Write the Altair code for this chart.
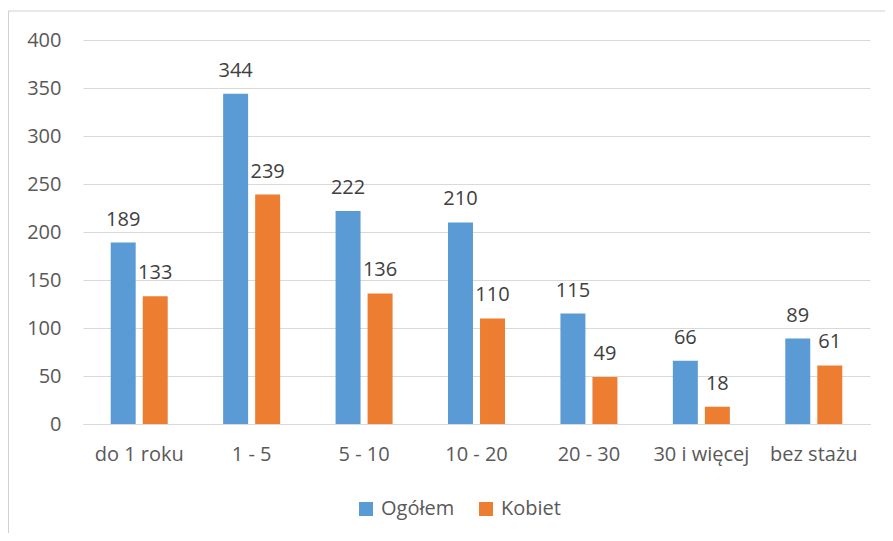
import altair as alt
import pandas as pd

categories = ["do 1 roku", "1 - 5", "5 - 10", "10 - 20", "20 - 30", "30 i więcej", "bez stażu"]
series = ["Ogółem", "Kobiet"]
ogolem = [189, 344, 222, 210, 115, 66, 89]
kobiet = [133, 239, 136, 110, 49, 18, 61]
y_ticks = [0, 50, 100, 150, 200, 250, 300, 350, 400]
colors = ["#5B9BD5", "#ED7D31"]

rows = []
for c, a, b in zip(categories, ogolem, kobiet):
    rows.append({"kat": c, "seria": series[0], "v": a})
    rows.append({"kat": c, "seria": series[1], "v": b})
df = pd.DataFrame(rows)

FONT = "Open Sans"

x_enc = alt.X("kat:N", sort=categories, title=None,
              scale=alt.Scale(paddingInner=0.493, paddingOuter=0.2465),
              axis=alt.Axis(labelAngle=0, ticks=False, domainColor="#d9d9d9",
                            labelFontSize=20, labelColor="#595959", labelFont=FONT,
                            labelPadding=20, grid=False))
xo_enc = alt.XOffset("seria:N", sort=series, scale=alt.Scale(paddingInner=0.22, paddingOuter=0))
y_enc = alt.Y("v:Q", title=None,
              scale=alt.Scale(domain=[0, 400], nice=False),
              axis=alt.Axis(values=y_ticks, ticks=False, domain=False, gridColor="#d9d9d9",
                            labelFontSize=20, labelColor="#595959", labelFont=FONT,
                            labelPadding=22))
color_enc = alt.Color("seria:N", sort=series,
                      scale=alt.Scale(domain=series, range=colors),
                      legend=alt.Legend(title=None, orient="none", direction="horizontal",
                                        legendX=273, legendY=459, symbolType="square",
                                        symbolSize=196, symbolStrokeWidth=0, labelFontSize=20,
                                        labelColor="#595959", labelFont=FONT, labelOffset=5,
                                        columnPadding=21, padding=0))

bars = alt.Chart(df).mark_bar().encode(x=x_enc, xOffset=xo_enc, y=y_enc, color=color_enc)

labels = alt.Chart(df).mark_text(baseline="alphabetic", dy=-17, fontSize=20, font=FONT,
                                 color="#404040").encode(
    x=alt.X("kat:N", sort=categories), xOffset=alt.XOffset("seria:N", sort=series),
    y="v:Q", text="v:Q")

border_df = pd.DataFrame({"b": [0]})
frame = alt.Chart(border_df).mark_rect(fillOpacity=0, stroke="#d0d0d0", strokeWidth=1).encode(
    x=alt.value(-74.5), x2=alt.value(900), y=alt.value(-29), y2=alt.value(600))

chart = alt.layer(bars, labels, frame).properties(
    width=787, height=384,
    autosize=alt.AutoSizeParams(type="none"),
    padding={"left": 75, "top": 32, "right": 15, "bottom": 109},
).configure_view(stroke=None)

chart.save("out.html", embed_options={"renderer": "svg", "actions": False})
